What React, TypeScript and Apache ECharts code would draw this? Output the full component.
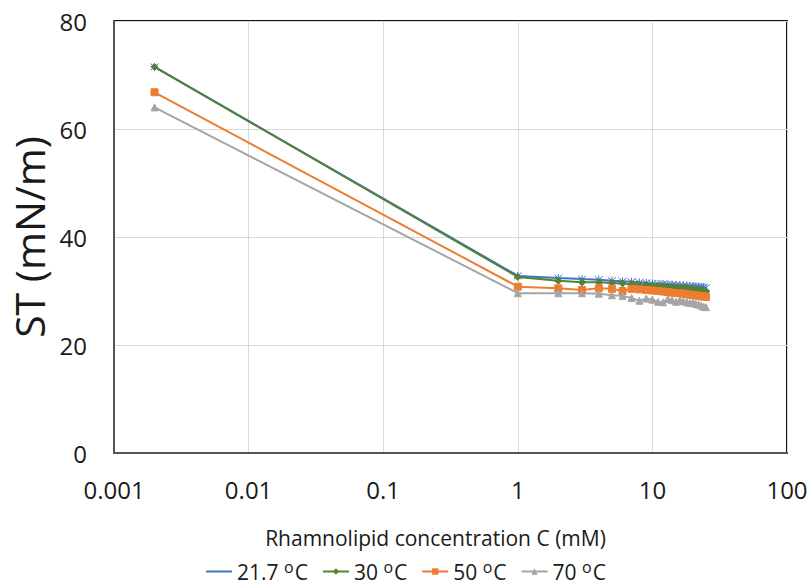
import React, { useEffect, useRef } from "react";
import * as echarts from "echarts";

const concentrations = [0.002, 1, 2, 3, 4, 5, 6, 7, 8, 9, 10, 11, 12, 13, 14, 15, 16, 17, 18, 19, 20, 21, 22, 23, 24, 25];
const st21_7 = [71.5, 32.8, 32.4, 32.2, 32.1, 31.9, 31.8, 31.7, 31.6, 31.5, 31.4, 31.3, 31.3, 31.2, 31.2, 31.1, 31.1, 31.0, 31.0, 30.9, 30.9, 30.8, 30.8, 30.7, 30.7, 30.6];
const st30 = [71.5, 32.6, 31.9, 31.6, 31.6, 31.5, 31.4, 31.3, 31.2, 31.1, 31.0, 30.9, 30.9, 30.8, 30.7, 30.7, 30.6, 30.5, 30.5, 30.4, 30.4, 30.3, 30.2, 30.1, 30.0, 29.9];
const st50 = [66.8, 30.8, 30.5, 30.2, 30.5, 30.4, 30.0, 30.4, 30.3, 30.2, 30.1, 30.0, 29.9, 29.8, 29.7, 29.6, 29.6, 29.5, 29.4, 29.3, 29.3, 29.2, 29.1, 29.0, 29.0, 28.9];
const st70 = [64.0, 29.6, 29.6, 29.6, 29.5, 29.2, 29.1, 28.7, 28.2, 28.6, 28.4, 28.0, 27.9, 28.5, 28.3, 28.0, 28.3, 28.1, 27.9, 27.8, 27.9, 27.6, 27.5, 27.3, 27.1, 27.0];
const seriesNames = ["21.7", "30", "50", "70"];
const xTicks = ["0.001", "0.01", "0.1", "1", "10", "100"];

const FONT = "'Open Sans', sans-serif";

export default function App() {
  const ref = useRef<HTMLDivElement>(null);
  useEffect(() => {
    if (!ref.current) return;
    const chart = echarts.init(ref.current, undefined, { renderer: "svg" });
    const mk = (name: string, vals: number[], color: string, symbol: string, size: number) => ({
      name,
      type: "line",
      data: concentrations.map((c, i) => [c, vals[i]]),
      symbol,
      symbolSize: size,
      showAllSymbol: true,
      lineStyle: { color, width: 2 },
      itemStyle: { color, borderColor: color },
      z: 3,
    });
    const starPath = "path://M-1,-1L1,1M-1,1L1,-1M0,-1.2L0,1.2";
    chart.setOption({
      animation: false,
      textStyle: { fontFamily: FONT },
      grid: {
        left: 113,
        right: 24,
        top: 21,
        bottom: 134,
        show: true,
        borderColor: "#111",
        borderWidth: 2,
        containLabel: false,
      },
      legend: {
        bottom: 0,
        left: "center",
        itemWidth: 26,
        itemHeight: 8,
        itemGap: 14,
        data: seriesNames,
        formatter: (n: string) => `{a|${n} }{s|o}{a|C}`,
        textStyle: {
          fontFamily: FONT,
          rich: {
            a: { fontSize: 21, color: "#1a1a1a", fontFamily: FONT },
            s: { fontSize: 16, color: "#1a1a1a", verticalAlign: "top", padding: [0, 1, 10, 0], fontFamily: FONT },
          },
        },
      },
      xAxis: {
        type: "log",
        logBase: 10,
        min: 0.001,
        max: 100,
        name: "Rhamnolipid concentration C (mM)",
        nameLocation: "middle",
        nameGap: 74,
        nameMoveOverlap: false,
        nameTextStyle: { fontSize: 21, color: "#1a1a1a", fontFamily: FONT, padding: [0, 30, 0, 0] },
        axisLine: { show: true, lineStyle: { color: "#555", width: 2 } },
        axisTick: { show: false },
        minorTick: { show: false },
        splitLine: { show: true, lineStyle: { color: "#d9d9d9", width: 1 } },
        axisLabel: {
          fontSize: 24,
          color: "#1a1a1a",
          margin: 24,
          formatter: (v: number) => {
            const idx = Math.round(Math.log10(v)) + 3;
            return xTicks[idx] ?? String(v);
          },
        },
      },
      yAxis: {
        type: "value",
        min: 0,
        max: 80,
        interval: 20,
        name: "ST (mN/m)",
        nameLocation: "middle",
        nameGap: 65,
        nameMoveOverlap: false,
        nameTextStyle: { fontSize: 41, color: "#1a1a1a", fontFamily: FONT },
        axisLine: { show: true, lineStyle: { color: "#555", width: 2 } },
        axisTick: { show: false },
        splitLine: { show: true, lineStyle: { color: "#d9d9d9", width: 1 } },
        axisLabel: { fontSize: 24, color: "#1a1a1a", margin: 27 },
      },
      series: [
        mk("21.7", st21_7, "#4472C4", starPath, 8),
        mk("30", st30, "#548235", "diamond", 7),
        mk("50", st50, "#ED7D31", "rect", 7),
        mk("70", st70, "#A5A5A5", "triangle", 7),
      ],
    });
    return () => chart.dispose();
  }, []);
  return <div ref={ref} style={{ position: "absolute", left: 0, top: 0, width: 811, height: 587 }} />;
}
